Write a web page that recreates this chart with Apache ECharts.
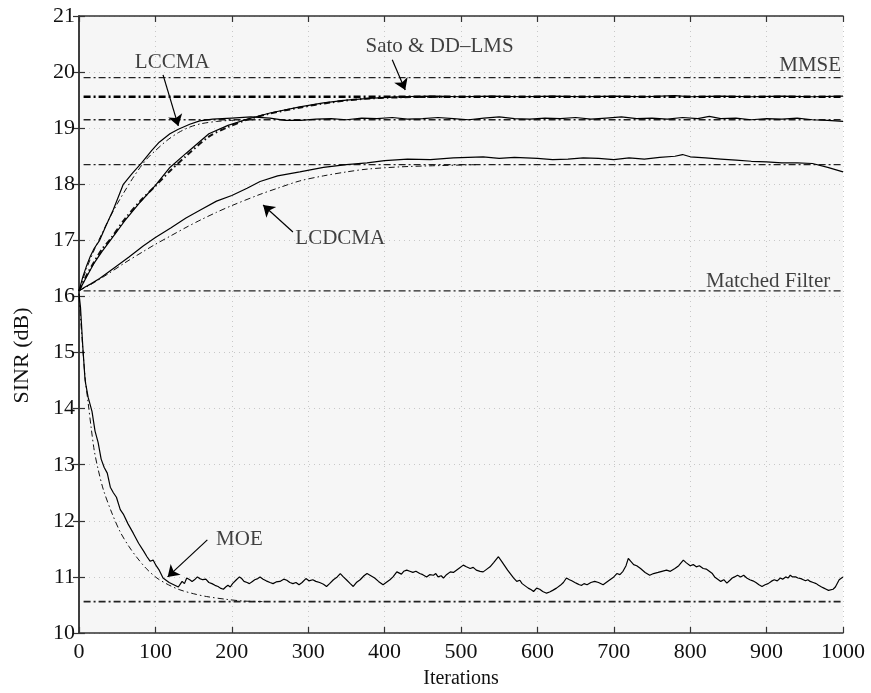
<!DOCTYPE html>
<html><head><meta charset="utf-8">
<script src="https://cdn.jsdelivr.net/npm/echarts@6/dist/echarts.min.js"></script>
<style>html,body{margin:0;padding:0;background:#fff}#c{width:871px;height:693px}</style>
</head><body><div id="c"></div>
<script>
// ---- axes ----
const xMin = 0, xMax = 1000, xStep = 100;
const yMin = 10, yMax = 21, yStep = 1;
const xTitle = 'Iterations';
const yTitle = 'SINR (dB)';

// ---- horizontal reference levels (dB) ----
const refNames  = ['MMSE', 'Sato & DD-LMS limit', 'LCCMA limit', 'LCDCMA limit', 'Matched Filter', 'MOE limit'];
const refLevels = [19.9, 19.56, 19.15, 18.35, 16.1, 10.56];
const refStart  = 6;

// ---- simulated curves [iteration, SINR] ----
const lccmaSim = [[0,16.1],[5,16.35],[10,16.55],[15,16.72],[20,16.86],[27,17.0],[35,17.25],[45,17.55],[58,18.0],[70,18.2],[82,18.38],[95,18.6],[105,18.75],[119,18.9],[130,18.98],[145,19.07],[158,19.13],[175,19.16],[200,19.18],[225,19.2],[250,19.18],[270,19.14],[290,19.14],[310,19.16],[330,19.17],[350,19.15],[370,19.18],[390,19.17],[410,19.19],[430,19.16],[450,19.17],[470,19.19],[490,19.17],[510,19.15],[530,19.18],[550,19.2],[570,19.17],[590,19.16],[610,19.18],[630,19.17],[650,19.19],[670,19.16],[690,19.18],[710,19.2],[730,19.17],[750,19.18],[770,19.16],[790,19.19],[810,19.17],[825,19.21],[840,19.17],[860,19.18],[880,19.15],[900,19.17],[920,19.16],[940,19.18],[960,19.15],[980,19.14],[1000,19.12]];
const satoSim = [[0,16.1],[10,16.35],[20,16.6],[30,16.8],[41,17.0],[60,17.35],[80,17.68],[100,17.98],[119,18.3],[140,18.55],[170,18.9],[195,19.05],[220,19.16],[250,19.27],[289,19.38],[320,19.45],[350,19.5],[380,19.53],[420,19.56],[460,19.57],[500,19.56],[540,19.57],[580,19.56],[620,19.57],[660,19.56],[700,19.57],[740,19.56],[780,19.58],[800,19.56],[840,19.57],[880,19.56],[920,19.57],[960,19.56],[1000,19.57]];
const lcdcmaSim = [[0,16.1],[8,16.17],[15,16.22],[27,16.32],[45,16.5],[65,16.7],[84,16.9],[100,17.05],[120,17.22],[140,17.4],[160,17.55],[180,17.7],[200,17.8],[220,17.93],[237,18.05],[260,18.15],[289,18.22],[320,18.3],[350,18.35],[377,18.38],[400,18.42],[430,18.45],[460,18.44],[490,18.47],[529,18.49],[550,18.46],[570,18.48],[600,18.46],[620,18.44],[640,18.45],[660,18.47],[680,18.46],[700,18.44],[720,18.47],[740,18.45],[760,18.48],[780,18.5],[790,18.53],[800,18.49],[820,18.47],[840,18.45],[860,18.43],[880,18.41],[900,18.4],[920,18.38],[940,18.38],[960,18.37],[980,18.3],[1000,18.22]];
const moeSim = [[0,16.05],[2,15.8],[5,15.1],[8,14.5],[12,14.2],[17,13.95],[21,13.6],[25,13.4],[29,13.1],[33,12.95],[37,12.85],[41,12.6],[45,12.5],[49,12.42],[54,12.2],[58,12.12],[64,11.95],[71,11.78],[78,11.6],[85,11.45],[89,11.36],[93,11.28],[97,11.3],[101,11.2],[105,11.12],[110,10.98],[114,10.94],[118,10.9],[124,10.86],[130,10.82],[133,10.88],[135,10.92],[138,10.88],[141,10.98],[145,10.95],[148,10.92],[152,10.96],[155,11.0],[158,10.97],[162,10.95],[166,10.96],[170,10.9],[174,10.88],[178,10.85],[182,10.83],[185,10.8],[189,10.78],[192,10.82],[195,10.85],[198,10.82],[201,10.88],[206,10.95],[210,11.0],[213,10.97],[216,10.92],[220,10.9],[223,10.88],[227,10.92],[230,10.95],[234,10.97],[237,11.0],[241,10.96],[245,10.93],[250,10.9],[254,10.88],[258,10.91],[263,10.92],[268,10.96],[272,10.94],[276,10.9],[280,10.88],[284,10.9],[288,10.86],[292,10.9],[297,10.97],[301,10.93],[306,10.95],[310,10.92],[315,10.9],[320,10.87],[324,10.83],[328,10.88],[333,10.95],[338,11.0],[342,11.06],[346,11.0],[350,10.95],[355,10.88],[359,10.83],[363,10.9],[368,10.95],[373,11.02],[377,11.06],[382,11.02],[387,10.98],[392,10.92],[398,10.86],[402,10.9],[407,10.95],[411,11.0],[416,11.09],[422,11.05],[425,11.1],[429,11.12],[433,11.1],[437,11.08],[441,11.1],[446,11.06],[450,11.04],[455,11.0],[459,11.04],[464,11.03],[467,11.06],[470,11.0],[474,11.02],[477,10.98],[481,11.04],[486,11.09],[490,11.08],[494,11.12],[498,11.16],[503,11.21],[507,11.18],[512,11.15],[516,11.17],[520,11.12],[525,11.1],[529,11.09],[533,11.13],[538,11.18],[543,11.26],[549,11.36],[553,11.28],[557,11.2],[561,11.12],[565,11.05],[569,10.98],[573,10.92],[577,10.94],[580,10.88],[584,10.84],[588,10.8],[592,10.77],[595,10.74],[599,10.8],[603,10.78],[607,10.74],[612,10.71],[616,10.73],[620,10.76],[625,10.8],[630,10.85],[634,10.9],[638,10.98],[642,10.95],[645,10.93],[649,10.9],[652,10.88],[655,10.86],[658,10.85],[661,10.88],[665,10.86],[670,10.9],[675,10.92],[680,10.9],[686,10.86],[690,10.9],[695,10.95],[700,11.0],[704,11.06],[708,11.04],[712,11.1],[716,11.2],[719,11.33],[722,11.28],[726,11.22],[730,11.2],[735,11.15],[741,11.08],[747,11.03],[752,11.06],[758,11.08],[763,11.1],[769,11.12],[774,11.1],[780,11.15],[785,11.2],[791,11.3],[795,11.25],[800,11.2],[804,11.22],[808,11.18],[812,11.2],[817,11.15],[821,11.14],[825,11.1],[829,11.06],[832,11.0],[836,10.96],[840,10.92],[844,10.95],[848,10.89],[852,10.94],[855,10.98],[858,11.0],[862,11.03],[866,11.0],[870,11.03],[874,10.98],[878,10.95],[882,10.93],[886,10.9],[890,10.86],[894,10.83],[898,10.86],[902,10.88],[906,10.92],[910,10.95],[914,10.93],[918,10.98],[921,10.96],[925,11.0],[928,10.98],[931,11.03],[934,11.0],[938,11.0],[941,10.98],[945,10.97],[948,10.95],[951,10.93],[954,10.95],[957,10.92],[961,10.9],[965,10.88],[968,10.85],[972,10.82],[975,10.8],[978,10.78],[981,10.76],[983,10.74],[987,10.78],[990,10.82],[995,10.95],[1000,11.0]];

// ---- theoretical curves [iteration, SINR] ----
const lccmaTheory = [[0,16.1],[10,16.5],[20,16.83],[30,17.12],[40,17.4],[50,17.65],[60,17.88],[70,18.1],[80,18.3],[90,18.47],[100,18.6],[115,18.78],[130,18.92],[145,19.02],[160,19.08],[180,19.12],[200,19.14],[230,19.15]];
const satoTheory = [[0,16.1],[10,16.38],[20,16.62],[30,16.84],[41,17.02],[60,17.38],[80,17.7],[100,17.97],[120,18.25],[140,18.5],[170,18.85],[195,19.02],[220,19.15],[250,19.26],[290,19.37],[330,19.46],[370,19.52],[420,19.55],[480,19.56]];
const lcdcmaTheory = [[0,16.1],[20,16.25],[40,16.42],[60,16.6],[84,16.8],[100,16.93],[120,17.08],[140,17.23],[160,17.37],[180,17.5],[200,17.62],[237,17.82],[260,17.93],[289,18.06],[320,18.15],[350,18.22],[377,18.27],[420,18.31],[463,18.33],[520,18.35]];
const moeTheory = [[0,16.0],[4,15.25],[8,14.55],[12,14.1],[16,13.65],[20,13.25],[25,12.92],[32,12.55],[43,12.14],[54,11.8],[65,11.55],[75,11.36],[88,11.15],[102,10.98],[117,10.86],[132,10.77],[150,10.7],[167,10.65],[193,10.6],[215,10.57],[240,10.56]];

// ---- annotations: text label positions and arrows (data units) ----
const labelTexts  = ['LCCMA', 'Sato & DD\u2013LMS', 'MMSE', 'LCDCMA', 'Matched Filter', 'MOE'];
const labelCoords = [[122,20.18],[472,20.45],[957,20.12],[342,17.04],[902,16.26],[210,11.66]];
const arrowFrom   = [[110,19.95],[410,20.22],[280,17.15],[168,11.66]];
const arrowTo     = [[130,19.04],[427,19.68],[241,17.63],[116,11.0]];

const FONT = "'Liberation Serif','Times New Roman',serif";
const chart = echarts.init(document.getElementById('c'), null, {renderer:'canvas'});

const dashDot = [7,3,2,3];
const series = [];

refLevels.forEach((v,i)=>{
  series.push({name: refNames[i], type:'line', data:[[refStart,v],[xMax,v]], symbol:'none', silent:true,
    lineStyle:{color: i===1 ? '#000' : '#222', width: i===1 ? 2.4 : (i===5 ? 1.8 : 1.3), type: dashDot}, z:2});
});
const theoryList = [lccmaTheory, satoTheory, lcdcmaTheory, moeTheory];
theoryList.forEach((d,i)=>{
  series.push({type:'line', data:d, symbol:'none', smooth:0.3, silent:true,
    lineStyle:{color:'#111', width: i===1 ? 2 : 1, type: [6,3,1.5,3]}, z:3});
});
const simList = [lccmaSim, satoSim, lcdcmaSim, moeSim];
simList.forEach((d,i)=>{
  series.push({type:'line', data:d, symbol:'none', silent:true,
    lineStyle:{color:'#000', width: 1.2}, z:4});
});
series.push({type:'scatter', symbolSize:0, silent:true, z:6,
  data: labelCoords.map((c,i)=>[c[0],c[1],labelTexts[i]]),
  label:{show:true, position:'inside', formatter:p=>p.value[2], color:'#111', fontFamily:FONT, fontSize:21}});
series.push({type:'lines', coordinateSystem:'cartesian2d', silent:true, z:6,
  symbol:['none','arrow'], symbolSize:[0,11],
  lineStyle:{color:'#000', width:1.2, opacity:1},
  data: arrowFrom.map((f,i)=>({coords:[f, arrowTo[i]]}))});

const axisCommon = {
  axisLine:{show:true, lineStyle:{color:'#333', width:1.5}},
  axisTick:{show:true, inside:true, length:6, lineStyle:{color:'#333', width:1.2}},
};

chart.setOption({
  animation:false,
  backgroundColor:'#fff',
  grid:{left:79, right:28, top:16, bottom:60, containLabel:false, outerBoundsMode:'none',
        show:true, backgroundColor:'#f6f6f6', borderWidth:0},
  xAxis:[
    Object.assign({type:'value', min:xMin, max:xMax, interval:xStep, position:'bottom',
      name:xTitle, nameLocation:'middle', nameGap:36,
      nameTextStyle:{fontFamily:FONT, fontSize:20, color:'#111'},
      axisLabel:{fontFamily:FONT, fontSize:22, color:'#111', margin:8, formatter:v=>String(v)},
      splitLine:{show:true, lineStyle:{color:'#c8c8c8', type:[1,4], width:1}}}, axisCommon),
    Object.assign({type:'value', min:xMin, max:xMax, interval:xStep, position:'top',
      axisLabel:{show:false}, splitLine:{show:false}}, axisCommon)
  ],
  yAxis:[
    Object.assign({type:'value', min:yMin, max:yMax, interval:yStep, position:'left',
      name:yTitle, nameLocation:'middle', nameGap:46,
      nameTextStyle:{fontFamily:FONT, fontSize:22, color:'#111', padding:[0,62,0,0]},
      axisLabel:{fontFamily:FONT, fontSize:22, color:'#111', margin:4},
      splitLine:{show:true, lineStyle:{color:'#c8c8c8', type:[1,4], width:1}}}, axisCommon),
    Object.assign({type:'value', min:yMin, max:yMax, interval:yStep, position:'right',
      axisLabel:{show:false}, splitLine:{show:false}}, axisCommon)
  ],
  series: series
});
</script></body></html>
